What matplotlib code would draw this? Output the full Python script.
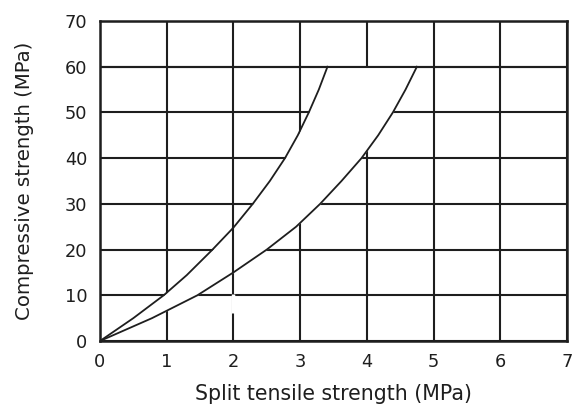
import numpy as np
import matplotlib
matplotlib.use("Agg")
import matplotlib.pyplot as plt

plt.rcParams["font.family"] = ["DejaVu Sans"]

# Upper boundary of the band (split tensile, compressive)
upper_x = [0.0, 0.5, 0.955, 1.3, 1.68, 2.0, 2.29, 2.546, 2.773, 2.965, 3.13, 3.28, 3.41]
upper_y = [0.0, 5.0, 10.0, 14.4, 19.9, 24.8, 30.0, 35.0, 40.0, 45.0, 50.0, 55.0, 60.0]

# Lower boundary of the band
lower_x = [0.0, 0.78, 1.46, 2.0, 2.5, 2.94, 3.30, 3.62, 3.92, 4.17, 4.39, 4.58, 4.75]
lower_y = [0.0, 5.0, 10.0, 15.0, 20.0, 25.0, 30.0, 35.0, 40.0, 45.0, 50.0, 55.0, 60.0]

x_ticks = [0, 1, 2, 3, 4, 5, 6, 7]
y_ticks = [0, 10, 20, 30, 40, 50, 60, 70]

ink = "#1e1e1e"

fig = plt.figure(figsize=(5.73, 4.16), dpi=100)
ax = fig.add_axes([0.1745, 0.1803, 0.8150, 0.7692])

ax.set_xlim(0, 7)
ax.set_ylim(0, 70)
ax.set_xticks(x_ticks)
ax.set_yticks(y_ticks)

# Full grid underneath
ax.set_axisbelow(True)
ax.grid(True, color=ink, linewidth=1.5)

# Blank out the grid inside the band between the two curves
levels = np.linspace(0, 60, 241)
band_left = np.interp(levels, upper_y, upper_x)
band_right = np.interp(levels, lower_y, lower_x)
ax.fill_betweenx(levels, band_left, band_right, color="white", zorder=1.5, linewidth=0)

# Lines that stay visible across the band
ax.axhline(60, color=ink, linewidth=1.5, zorder=2)
y_lo = np.interp(2, lower_x, lower_y)
y_hi = np.interp(2, upper_x, upper_y)
ax.plot([2, 2], [y_lo, y_hi], color=ink, linewidth=1.5, zorder=2)
# Break in the x = 2 grid line below the band
ax.plot([2, 2], [6.2, 10.3], color="white", linewidth=2.5, zorder=2,
        solid_capstyle="butt")

# Boundary curves
ax.plot(upper_x, upper_y, color=ink, linewidth=1.3, zorder=3, solid_joinstyle="round")
ax.plot(lower_x, lower_y, color=ink, linewidth=1.3, zorder=3, solid_joinstyle="round")

for s in ax.spines.values():
    s.set_color(ink)
    s.set_linewidth(1.8)

ax.tick_params(length=0, labelsize=12.8, colors=ink)
ax.tick_params(axis="x", pad=9)
ax.tick_params(axis="y", pad=9)
ax.set_xlabel("Split tensile strength (MPa)", fontsize=14.8, color=ink, labelpad=9)
ax.set_ylabel("Compressive strength (MPa)", fontsize=14.2, color=ink, labelpad=22)

fig.savefig("out.png", dpi=100)
